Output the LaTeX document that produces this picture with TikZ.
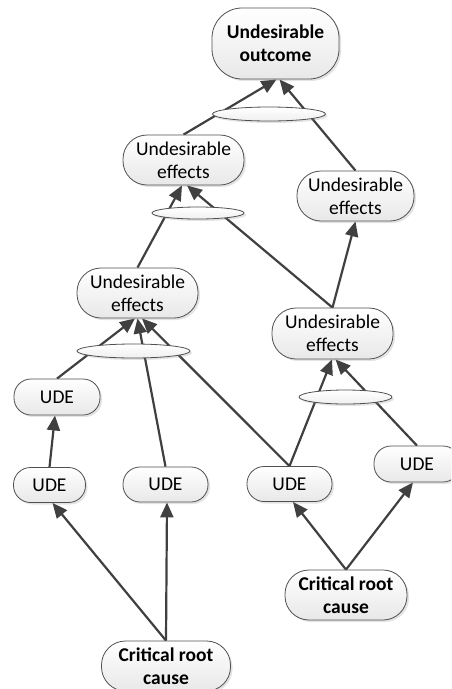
\documentclass[tikz,border=0pt]{standalone}
\usepackage{fontspec}
\setmainfont{Carlito}
\usetikzlibrary{arrows.meta,shadows,backgrounds,shapes.geometric}
\definecolor{ink}{HTML}{404040}
\definecolor{rim}{HTML}{505050}

\begin{document}
\begin{tikzpicture}[x=1pt,y=-1pt,
  every node/.style={font=\fontsize{19.5}{23}\selectfont},
  box/.style={draw=rim, line width=0.8pt, top color=white, bottom color=black!9,
    align=center, inner sep=0pt,
    drop shadow={opacity=0.22, shadow xshift=2pt, shadow yshift=-2pt}},
  effect/.style={box, minimum width=121pt, minimum height=50pt, rounded corners=24pt},
  ude/.style={box, minimum width=85pt, minimum height=35pt, rounded corners=17pt},
  root/.style={box, minimum height=50pt, rounded corners=24pt, font=\fontsize{19.5}{23}\selectfont\bfseries},
  andmark/.style={ellipse, draw=rim, line width=0.8pt, top color=white, bottom color=black!6,
    inner sep=0pt, drop shadow={opacity=0.22, shadow xshift=2pt, shadow yshift=-2pt}},
  link/.style={draw=ink, line width=2.2pt, -{Triangle[length=15pt,width=13pt]}},
]
\useasboundingbox (0,0) rectangle (451,689);
\clip (0,0) rectangle (451,689);

% outcome at the top
\node[box, minimum width=127pt, minimum height=71pt, rounded corners=30pt,
      font=\fontsize{19.5}{23}\selectfont\bfseries] (top) at (275.5,43.5) {Undesirable\\outcome};

% intermediate effects
\node[effect] (ueL1) at (183.5,160) {Undesirable\\effects};
\node[effect, minimum width=117pt] (ueR1) at (355.5,196) {Undesirable\\effects};
\node[effect] (ueL2) at (137.5,293) {Undesirable\\effects};
\node[effect, minimum height=51pt] (ueR2) at (332.5,333.5) {Undesirable\\effects};

% AND marks
\node[andmark, minimum width=113pt, minimum height=14pt] (e1) at (269,114) {};
\node[andmark, minimum width=92pt, minimum height=12pt] (e2) at (198,213) {};
\node[andmark, minimum width=113pt, minimum height=14pt] (e3) at (133.5,351) {};
\node[andmark, minimum width=93pt, minimum height=14pt] (e4) at (345.5,397) {};

% UDEs
\node[ude, minimum width=86pt, minimum height=36pt] (udeA) at (57,397) {UDE};
\node[ude, minimum width=72pt] (udeB) at (49.5,485) {UDE};
\node[ude] (udeC) at (165.5,484.5) {UDE};
\node[ude] (udeD) at (289.5,484) {UDE};
\node[ude, minimum width=86pt, minimum height=36pt] (udeE) at (417,464) {UDE};

% root causes
\node[root, minimum width=122pt] (crcR) at (346,595) {Critical root\\cause};
\node[root, minimum width=129pt] (crcB) at (166,666) {Critical root\\cause};

\begin{scope}[on background layer]
  \draw[link] (ueL1.north) -- ([xshift=1pt]top.south);
  \draw[link] (ueR1.north) -- ([xshift=4pt]top.south);
  \draw[link] (ueL2.north) -- ([xshift=-1.5pt]ueL1.south);
  \draw[link] (ueR2.north) -- ([xshift=3.5pt]ueL1.south);
  \draw[link] (udeA.north) -- ([xshift=-2.5pt]ueL2.south);
  \draw[link] (udeC.north) -- (ueL2.south);
  \draw[link] (udeD.north) -- ([xshift=4.5pt]ueL2.south);
  \draw[link] (ueR2.north) -- (ueR1.south);
  \draw[link] (udeD.north) -- ([xshift=-0.5pt]ueR2.south);
  \draw[link] (udeE.north) -- ([xshift=3pt]ueR2.south);
  \draw[link] (udeB.north) -- ([xshift=-2pt]udeA.south);
  \draw[link] (crcB.north) -- ([xshift=3pt]udeB.south);
  \draw[link] (crcB.north) -- ([xshift=1.5pt]udeC.south);
  \draw[link] (crcR.north) -- ([xshift=3.5pt]udeD.south);
  \draw[link] (crcR.north) -- ([xshift=-4pt]udeE.south);
\end{scope}
\end{tikzpicture}
\end{document}
